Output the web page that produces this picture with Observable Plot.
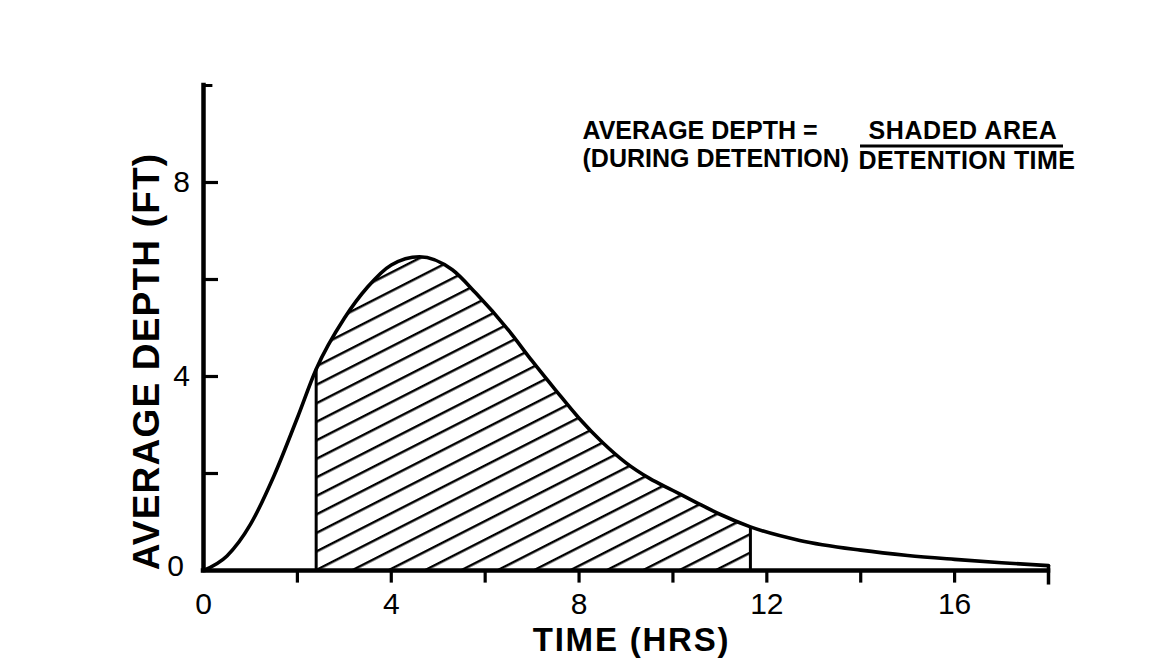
<!DOCTYPE html>
<html>
<head>
<meta charset="utf-8">
<script src="https://cdn.jsdelivr.net/npm/d3@7"></script>
<script src="https://cdn.jsdelivr.net/npm/@observablehq/plot@0.6"></script>
<style>
  html, body { margin: 0; padding: 0; background: #fff; }
  #chart svg { display: block; }
</style>
</head>
<body>
<div id="chart"></div>
<script>
// Depth hydrograph of the detention basin (time in hours, depth in feet)
const hours = [0, 0.5, 1.0, 1.5, 2.0, 2.4, 3.0, 3.5, 4.0, 4.6, 5.3, 5.8, 6.5, 7.0, 7.5, 8.0, 8.5, 9.0, 9.5, 10.0, 10.5, 11.0, 11.65, 12.7, 14.0, 15.0, 16.0, 17.0, 18.0];
const depth = [0, 0.3, 0.95, 1.95, 3.15, 4.15, 5.2, 5.85, 6.3, 6.47, 6.2, 5.72, 4.95, 4.32, 3.72, 3.14, 2.64, 2.22, 1.9, 1.65, 1.4, 1.16, 0.9, 0.62, 0.42, 0.31, 0.23, 0.16, 0.1];

// Detention period (start and end of the shaded area), hours
const detention = [2.4, 11.65];

// Axis ticks and labels
const xTicks = [2, 4, 6, 8, 10, 12, 14, 16];
const xLabels = [0, 4, 8, 12, 16];
const xEnd = 18;
const yTicks = [2, 4, 6, 8];
const yLabels = [4, 8];
const yZero = [0];
const yTop = 10;

const curve = hours.map((t, i) => ({t, d: depth[i]}));
const shaded = curve.filter(p => p.t >= detention[0] && p.t <= detention[1]);
const bounds = curve.filter(p => detention.includes(p.t));

const font = "'Liberation Sans', Arial, sans-serif";
const interp = "monotone-x";
const ink = "#000";

const plot = Plot.plot({
  width: 1170,
  height: 666,
  marginLeft: 203,
  marginRight: 122,
  marginTop: 85,
  marginBottom: 96,
  x: {domain: [0, xEnd], axis: null},
  y: {domain: [0, yTop], axis: null},
  style: {fontFamily: font, color: ink, background: "#fff"},
  marks: [
    // hatched area during detention
    Plot.areaY(shaded, {x: "t", y: "d", fill: "url(#hatch)", curve: interp}),
    Plot.ruleX(bounds, {x: "t", y1: 0, y2: "d", stroke: ink, strokeWidth: 3}),
    Plot.lineY(curve, {x: "t", y: "d", stroke: ink, strokeWidth: 3.6, curve: interp}),

    // axes
    Plot.ruleY([0], {x1: 0, x2: xEnd, stroke: ink, strokeWidth: 4.5, strokeLinecap: "square"}),
    Plot.ruleX([0], {y1: 0, y2: yTop, stroke: ink, strokeWidth: 4.5, strokeLinecap: "square"}),
    Plot.ruleY(yTicks, {x1: 0, x2: 0.32, stroke: ink, strokeWidth: 3.2}),
    Plot.ruleY([yTop], {x1: 0, x2: 0.2, stroke: ink, strokeWidth: 3}),
    Plot.ruleX(xTicks, {y1: 0, y2: -0.26, stroke: ink, strokeWidth: 3.2}),
    Plot.ruleX([xEnd], {y1: 0.1, y2: -0.3, stroke: ink, strokeWidth: 3.5}),

    // tick labels
    Plot.text(xLabels, {x: d => d, y: 0, dy: 34, text: d => String(d), fontSize: 30, fill: ink, lineAnchor: "middle"}),
    Plot.text(yLabels, {x: 0, y: d => d, dx: -22, text: d => String(d), fontSize: 30, fill: ink, lineAnchor: "middle"}),
    Plot.text(yZero, {x: 0, y: d => d, dx: -28, dy: -4, text: d => String(d), fontSize: 30, fill: ink, lineAnchor: "middle"}),

    // axis titles
    Plot.text(["TIME (HRS)"], {frameAnchor: "bottom-left", dx: 428, dy: 70, textAnchor: "middle", fontSize: 33, fontWeight: "bold", fill: ink, lineAnchor: "middle"}),
    Plot.text(["AVERAGE DEPTH (FT)"], {frameAnchor: "top-left", dx: -56, dy: 276, textAnchor: "middle", rotate: -90, fontSize: 37, fontWeight: "bold", fill: ink, lineAnchor: "middle"}),

    // formula
    Plot.text(["AVERAGE DEPTH ="], {frameAnchor: "top-left", dx: 379, dy: 45, textAnchor: "start", fontSize: 25, fontWeight: "bold", fill: ink, lineAnchor: "middle"}),
    Plot.text(["(DURING DETENTION)"], {frameAnchor: "top-left", dx: 379, dy: 73, textAnchor: "start", fontSize: 25, fontWeight: "bold", fill: ink, lineAnchor: "middle"}),
    Plot.text(["SHADED AREA"], {frameAnchor: "top-left", dx: 665, dy: 45, textAnchor: "start", fontSize: 25, fontWeight: "bold", fill: ink, lineAnchor: "middle"}),
    Plot.text(["DETENTION TIME"], {frameAnchor: "top-left", dx: 655, dy: 75, textAnchor: "start", fontSize: 25, fontWeight: "bold", fill: ink, lineAnchor: "middle"})
  ]
});

// hatch pattern used by the shaded area, and the fraction bar
const svg = d3.select(plot);
const pattern = svg.insert("defs", ":first-child")
  .append("pattern")
  .attr("id", "hatch")
  .attr("patternUnits", "userSpaceOnUse")
  .attr("width", 60)
  .attr("height", 16.5)
  .attr("patternTransform", "rotate(-27)");
pattern.append("line")
  .attr("x1", 0).attr("x2", 60).attr("y1", 8).attr("y2", 8)
  .attr("stroke", ink).attr("stroke-width", 2.3);

svg.append("line")
  .attr("x1", 860).attr("x2", 1063).attr("y1", 146).attr("y2", 146)
  .attr("stroke", ink).attr("stroke-width", 3);

const spacing = {"TIME (HRS)": 1.8, "AVERAGE DEPTH (FT)": 1.2, "SHADED AREA": 0.6, "DETENTION TIME": 0.4};
svg.selectAll("text").each(function() {
  const s = spacing[this.textContent];
  if (s) d3.select(this).attr("letter-spacing", s);
});

document.getElementById("chart").append(plot);
</script>
</body>
</html>
